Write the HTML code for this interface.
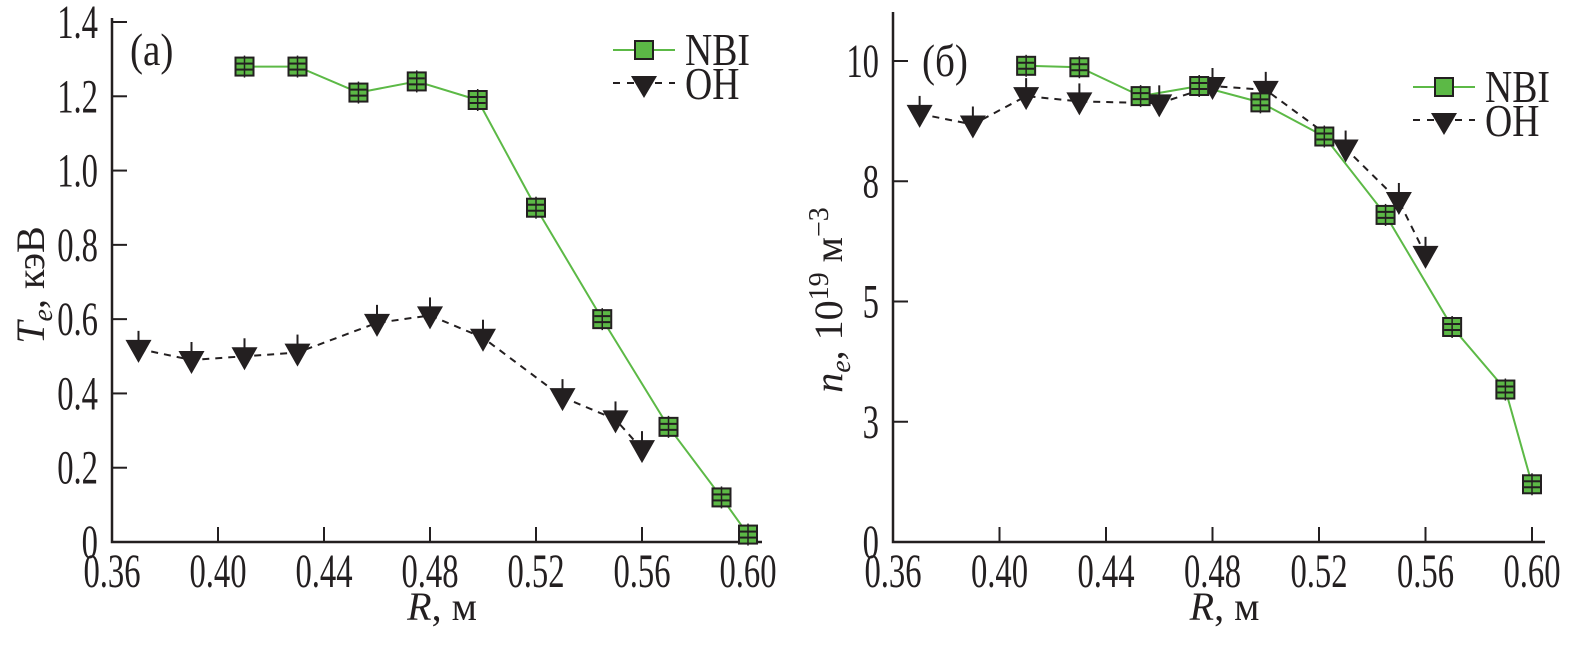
<!DOCTYPE html>
<html><head><meta charset="utf-8"><style>
body{margin:0;background:#fff}
svg{display:block}
text{font-family:"Liberation Serif",serif;fill:#231f20}
</style></head><body>
<svg width="1579" height="646" viewBox="0 0 1579 646" id="svg">
</svg>
<script>
const R_nbi=[0.41,0.43,0.453,0.475,0.498,0.52,0.545,0.57,0.59,0.60];
const Te_nbi=[1.28,1.28,1.21,1.24,1.19,0.90,0.60,0.31,0.12,0.02];
const R_oh=[0.37,0.39,0.41,0.43,0.46,0.48,0.50,0.53,0.55,0.56];
const Te_oh=[0.52,0.49,0.50,0.51,0.59,0.61,0.55,0.39,0.33,0.25];
const R2_nbi=[0.41,0.43,0.453,0.475,0.498,0.522,0.545,0.57,0.59,0.60];
const ne_nbi=[9.9,9.87,9.27,9.48,9.14,8.43,6.8,4.47,3.17,1.2];
const R2_oh=[0.37,0.39,0.41,0.43,0.46,0.48,0.50,0.53,0.55,0.56];
const ne_oh=[8.9,8.68,9.27,9.16,9.12,9.48,9.4,8.18,7.09,5.97];
const xTicks=[0.36,0.40,0.44,0.48,0.52,0.56,0.60];
const xTickLabels=["0.36","0.40","0.44","0.48","0.52","0.56","0.60"];
const yTicksL=[0,0.2,0.4,0.6,0.8,1.0,1.2,1.4];
const yTickLabelsL=["0","0.2","0.4","0.6","0.8","1.0","1.2","1.4"];
const yTicksR=[0,2.5,5,7.5,10];
const yTickLabelsR=["0","3","5","8","10"];

const NS="http://www.w3.org/2000/svg";
const svg=document.getElementById('svg');
function el(t,a,p){const e=document.createElementNS(NS,t);for(const k in a)e.setAttribute(k,a[k]);(p||svg).appendChild(e);return e;}
function stext(x,y,size,sx,anchor,p){return el('text',{x:0,y:0,'font-size':size,'text-anchor':anchor,transform:`translate(${x},${y}) scale(${sx},1)`},p);}
const GREEN="#5cb946",INK="#231f20";

function panel(cfg){
  const g=el('g',{});
  
  
  const sx=v=>cfg.x0+(v-0.36)/0.24*(cfg.x1-cfg.x0);
  const sy=v=>cfg.yb+(v-cfg.ymin)/(cfg.ymax-cfg.ymin)*(cfg.yt-cfg.yb);
  const ax=el('path',{d:`M${cfg.x0} ${cfg.axTop}V${cfg.yb}H${cfg.axRight}`,stroke:INK,'stroke-width':2.5,fill:'none'},g);
  
  
  xTicks.forEach((v,i)=>{
    const x=sx(v);
    if(i>0)el('line',{x1:x,x2:x,y1:cfg.yb,y2:cfg.yb-15,stroke:INK,'stroke-width':2},g);
    const t=stext(x,cfg.yb+45,48,0.68,'middle',g);
    t.textContent=xTickLabels[i];
    
    
  });
  cfg.yTicks.forEach((v,i)=>{
    const y=sy(v);
    if(i>0)el('line',{x1:cfg.x0,x2:cfg.x0+15,y1:y,y2:y,stroke:INK,'stroke-width':2},g);
    const t=stext(cfg.x0-14,y+16,48,0.68,'end',g);
    t.textContent=cfg.yLabels[i];
    
    
  });
  const pOH=cfg.rOH.map((r,i)=>sx(r)+','+sy(cfg.vOH[i])).join(' ');
  const l1=el('polyline',{points:pOH,fill:'none',stroke:INK,'stroke-width':2,'stroke-dasharray':'7,6'},g);
  
  
  const pN=cfg.rN.map((r,i)=>sx(r)+','+sy(cfg.vN[i])).join(' ');
  const l2=el('polyline',{points:pN,fill:'none',stroke:GREEN,'stroke-width':2},g);
  
  
  cfg.rOH.forEach((r,i)=>{
    const x=sx(r),y=sy(cfg.vOH[i]);
    el('line',{x1:x,x2:x,y1:y-18,y2:y,stroke:INK,'stroke-width':2},g);
    const m=el('path',{d:`M${x-13} ${y-9}H${x+13}L${x} ${y+14}Z`,fill:INK},g);
    
    
  });
  cfg.rN.forEach((r,i)=>{
    const x=sx(r),y=sy(cfg.vN[i]);
    const m=el('rect',{x:x-9,y:y-9,width:18,height:18,fill:GREEN,stroke:INK,'stroke-width':2},g);
    
    
    el('line',{x1:x-8,x2:x+8,y1:y-3,y2:y-3,stroke:INK,'stroke-width':2},g);
    el('line',{x1:x-8,x2:x+8,y1:y+3,y2:y+3,stroke:INK,'stroke-width':2},g);
    el('line',{x1:x,x2:x,y1:y-11,y2:y+11,stroke:INK,'stroke-width':1.5},g);
  });
  const L=cfg.leg;
  const lg=el('g',{},g);
  
  
  el('line',{x1:L.x,x2:L.x+62,y1:L.y,y2:L.y,stroke:GREEN,'stroke-width':2},lg);
  el('rect',{x:L.x+22,y:L.y-9,width:18,height:18,fill:GREEN,stroke:INK,'stroke-width':2},lg);
  let t=stext(L.x+72,L.y+15,46,0.82,'start',lg);t.textContent='NBI';
  el('line',{x1:L.x,x2:L.x+62,y1:L.y+33,y2:L.y+33,stroke:INK,'stroke-width':2,'stroke-dasharray':'7,7'},lg);
  el('path',{d:`M${L.x+18} ${L.y+26}H${L.x+44}L${L.x+31} ${L.y+48}Z`,fill:INK},lg);
  t=stext(L.x+72,L.y+49,46,0.82,'start',lg);t.textContent='OH';
  const pl=stext(cfg.plx,cfg.ply,46,0.85,'start',g);
  pl.textContent=cfg.panelLabel;
  
  
  const xl=el('text',{x:(cfg.x0+cfg.x1)/2+12,y:620,'font-size':40,'text-anchor':'middle'},g);
  xl.innerHTML='<tspan font-style="italic">R</tspan>, м';
  
  
  const yl=el('text',{x:0,y:0,'font-size':40,'text-anchor':'middle',transform:`translate(${cfg.ylx},${cfg.yly}) rotate(-90)`},g);
  yl.innerHTML=cfg.ytitle;
  
  
}
panel({name:'panel-a-temperature',x0:112,x1:748,axRight:762,yb:542,yt:22,axTop:18,ymin:0,ymax:1.4,
  yTicks:yTicksL,yLabels:yTickLabelsL,rN:R_nbi,vN:Te_nbi,rOH:R_oh,vOH:Te_oh,
  leg:{x:613,y:50},panelLabel:'(a)',plx:130,ply:65,ylx:44,yly:285,
  ytitle:'<tspan font-style="italic">T</tspan><tspan font-style="italic" font-size="28" dy="8">e</tspan><tspan dy="-8">, кэВ</tspan>'});
panel({name:'panel-b-density',x0:893,x1:1532,axRight:1545,yb:542,yt:61,axTop:12,ymin:0,ymax:10,
  yTicks:yTicksR,yLabels:yTickLabelsR,rN:R2_nbi,vN:ne_nbi,rOH:R2_oh,vOH:ne_oh,
  leg:{x:1413,y:87},panelLabel:'(б)',plx:922,ply:76,ylx:842,yly:300,
  ytitle:'<tspan font-style="italic">n</tspan><tspan font-style="italic" font-size="28" dy="8">e</tspan><tspan dy="-8">, 10</tspan><tspan font-size="28" dy="-14">19</tspan><tspan dy="14"> м</tspan><tspan font-size="28" dy="-14">−3</tspan>'});
</script>
</body></html>
